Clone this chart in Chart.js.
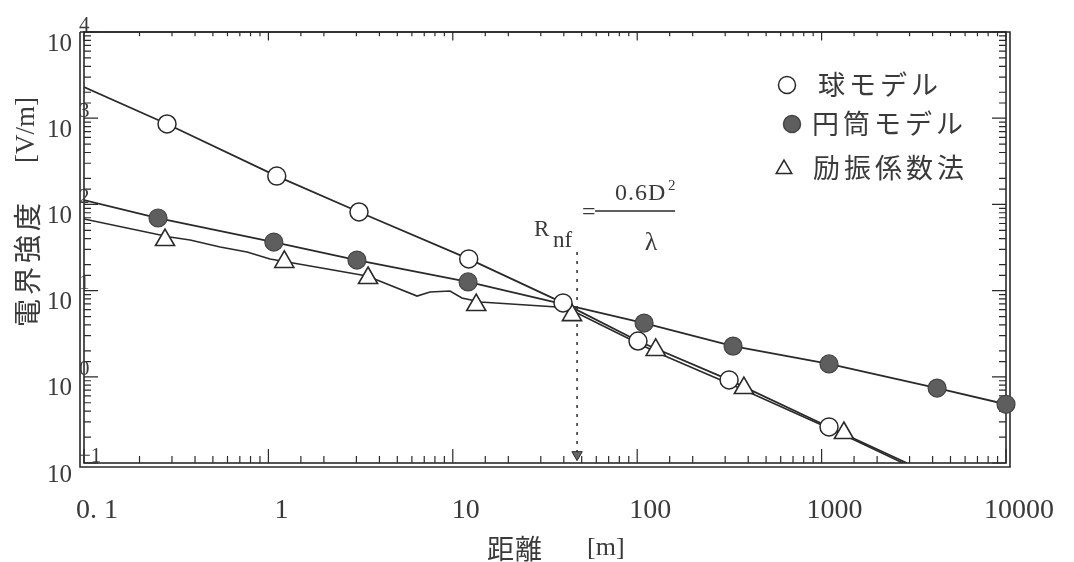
<!DOCTYPE html>
<html><head><meta charset="utf-8">
<script src="https://cdn.jsdelivr.net/npm/chart.js@4.4.0/dist/chart.umd.min.js"></script>
<style>html,body{margin:0;padding:0;background:#fff;}#wrap{width:1074px;height:562px;position:relative;}</style>
</head><body><div id="wrap"><canvas id="c"></canvas></div>
<script>
// ---- data ----
const xTickValues = [0.1, 1, 10, 100, 1000, 10000];
const xTickLabels = ['0. 1', '1', '10', '100', '1000', '10000'];
const yTickExponents = [-1, 0, 1, 2, 3, 4];
const yTickBase = '10';
const xTitle = ['距離', '[m]'];
const yTitle = ['電界強度', '[V/m]'];
const seriesNames = ['球モデル', '円筒モデル', '励振係数法'];

// 球モデル (open circles)
const sphereX = [0.282, 1.11, 3.10, 12.2, 39.6, 101, 315, 1097];
const sphereY = [857, 213, 81.7, 23.3, 7.2, 2.6, 0.92, 0.262];
const sphereLineX = [0.1, 0.282, 1.11, 3.10, 12.2, 39.6, 101, 315, 1097, 2900];
const sphereLineY = [2300, 857, 213, 81.7, 23.3, 7.2, 2.6, 0.92, 0.262, 0.1];

// 円筒モデル (filled circles)
const cylX = [0.252, 1.07, 3.02, 12.1, 109, 331, 1097, 4230, 10000];
const cylY = [69.5, 36.6, 22.6, 12.6, 4.2, 2.27, 1.41, 0.74, 0.48];
const cylLineX = [0.1, 0.252, 1.07, 3.02, 12.1, 109, 331, 1097, 4230, 10000];
const cylLineY = [112, 69.5, 36.6, 22.6, 12.6, 4.2, 2.27, 1.41, 0.74, 0.48];

// 励振係数法 (triangles + measured curve)
const excX = [0.275, 1.22, 3.47, 13.4, 44.3, 126, 379, 1321];
const excY = [38.6, 21.5, 14.0, 6.8, 5.2, 2.05, 0.74, 0.223];
const excLineX = [0.1, 0.292, 0.376, 0.547, 0.766, 1.02, 1.36, 2.24, 3.43, 6.40, 7.52, 9.66, 11.2, 14.1, 36.7, 46.0, 126, 379, 1321, 2760];
const excLineY = [67.8, 41.9, 38.6, 32.1, 28.1, 23.3, 20.9, 17.3, 14.8, 8.65, 9.64, 9.9, 8.2, 7.38, 6.46, 5.65, 1.94, 0.703, 0.211, 0.1];

// R_nf marker line
const rnfX = 47.2;
const rnfLineY = [28, 0.125];

const pts = (xs, ys) => xs.map((v, i) => ({x: v, y: ys[i]}));

const fontSerif = "'Liberation Serif', 'DejaVu Serif', serif";
const fontCJK = "'Noto Sans CJK JP', sans-serif";
const ink = '#2a2a2a';
const txt = '#3a3a3a';
const cylFill = '#5e5e5e';

function drawMarker(ctx, kind, cx, cy, r) {
  ctx.save();
  ctx.lineWidth = 1.5;
  ctx.strokeStyle = ink;
  ctx.beginPath();
  if (kind === 'tri') {
    for (let k = 0; k < 3; k++) {
      const ang = k * 2 * Math.PI / 3;
      const px = cx + Math.sin(ang) * r, py = cy - Math.cos(ang) * r;
      if (k === 0) ctx.moveTo(px, py); else ctx.lineTo(px, py);
    }
    ctx.closePath();
    ctx.fillStyle = '#fff';
  } else {
    ctx.arc(cx, cy, r, 0, Math.PI * 2);
    ctx.fillStyle = kind === 'filled' ? cylFill : '#fff';
    if (kind === 'filled') ctx.strokeStyle = '#444';
  }
  ctx.fill(); ctx.stroke();
  ctx.restore();
}

const isMajor = v => Math.abs(Math.log10(v) - Math.round(Math.log10(v))) < 1e-6;

const decor = {
  id: 'decor',
  beforeDatasetsDraw(chart) {
    const {ctx, chartArea: a, scales: {x, y}} = chart;
    ctx.save();
    ctx.strokeStyle = ink; ctx.lineWidth = 1.6;
    ctx.strokeRect(a.left, a.top, a.right - a.left, a.bottom - a.top);
    ctx.beginPath();
    ctx.moveTo(a.left - 4, a.top); ctx.lineTo(a.left - 4, a.bottom + 4);
    ctx.lineTo(a.right + 4, a.bottom + 4); ctx.lineTo(a.right + 4, a.top);
    ctx.lineTo(a.left - 4, a.top);
    ctx.stroke();
    ctx.lineWidth = 1.2;
    ctx.beginPath();
    x.ticks.forEach(t => {
      const p = x.getPixelForValue(t.value);
      const L = isMajor(t.value) ? 14 : 7;
      ctx.moveTo(p, a.bottom); ctx.lineTo(p, a.bottom - L);
      ctx.moveTo(p, a.top); ctx.lineTo(p, a.top + L * 0.6);
    });
    y.ticks.forEach(t => {
      const p = y.getPixelForValue(t.value);
      const L = isMajor(t.value) ? 14 : 7;
      ctx.moveTo(a.left, p); ctx.lineTo(a.left + L, p);
      ctx.moveTo(a.right, p); ctx.lineTo(a.right - L, p);
    });
    ctx.stroke();
    ctx.restore();
  },
  afterDraw(chart) {
    const {ctx, chartArea: a, scales: {x, y}} = chart;
    ctx.save();
    ctx.fillStyle = txt;
    // y tick labels 10^n
    yTickExponents.forEach(e => {
      const p = y.getPixelForValue(Math.pow(10, e));
      ctx.font = `25px ${fontSerif}`; ctx.textAlign = 'right'; ctx.textBaseline = 'middle';
      ctx.fillText(yTickBase, a.left - 12, p + 12);
      ctx.font = `21px ${fontSerif}`; ctx.textAlign = 'left';
      ctx.fillText(String(e).replace('-', '\u2212'), a.left - 5, p - 7);
    });
    // y title (rotated)
    ctx.save();
    ctx.translate(a.left - 57, a.top + 295);
    ctx.rotate(-Math.PI / 2);
    ctx.textAlign = 'left'; ctx.textBaseline = 'middle';
    ctx.font = `28px ${fontCJK}`; ctx.letterSpacing = '4px';
    ctx.fillText(yTitle[0], 0, 0);
    ctx.letterSpacing = '0px';
    ctx.font = `27px ${fontSerif}`;
    ctx.fillText(yTitle[1], 164, 0);
    ctx.restore();
    // x title
    ctx.textBaseline = 'middle'; ctx.textAlign = 'left';
    ctx.font = `27px ${fontCJK}`; ctx.letterSpacing = '1px';
    ctx.fillText(xTitle[0], a.left + 403, a.bottom + 86);
    ctx.letterSpacing = '0px';
    ctx.font = `26px ${fontSerif}`;
    ctx.fillText(xTitle[1], a.left + 503, a.bottom + 85);
    // legend
    const lx = a.right - 219, ly = [a.top + 53, a.top + 92, a.top + 138];
    const kinds = ['open', 'filled', 'tri'];
    const mx = [0, 5, -3];
    const tx = [31, 25, 26];
    kinds.forEach((k, i) => {
      drawMarker(ctx, k, lx + mx[i], ly[i] - (k === 'tri' ? 1 : 0), k === 'tri' ? 9 : 8.5);
      ctx.fillStyle = txt;
      ctx.font = `27px ${fontCJK}`; ctx.letterSpacing = '4px';
      ctx.textAlign = 'left'; ctx.textBaseline = 'middle';
      ctx.fillText(seriesNames[i], lx + tx[i], ly[i] + (i === 2 ? -2 : 0));
    });
    ctx.letterSpacing = '0px';
    // R_nf formula
    const rx = x.getPixelForValue(rnfX);
    const ry = y.getPixelForValue(rnfLineY[0]);
    ctx.fillStyle = txt; ctx.textBaseline = 'alphabetic'; ctx.textAlign = 'left';
    ctx.font = `23px ${fontSerif}`;
    ctx.fillText('R', rx - 43, ry - 16);
    ctx.fillText('nf', rx - 24, ry - 5);
    ctx.font = `24px ${fontSerif}`;
    ctx.fillText('=', rx + 5, ry - 33);
    ctx.strokeStyle = ink; ctx.lineWidth = 1.6;
    ctx.beginPath(); ctx.moveTo(rx + 18, ry - 41); ctx.lineTo(rx + 98, ry - 41); ctx.stroke();
    ctx.font = `24px ${fontSerif}`; ctx.letterSpacing = '1px';
    ctx.fillText('0.6D', rx + 38, ry - 52);
    ctx.letterSpacing = '0px';
    ctx.font = `15px ${fontSerif}`;
    ctx.fillText('2', rx + 91, ry - 62);
    ctx.font = `26px ${fontSerif}`; ctx.textAlign = 'center';
    ctx.fillText('\u03bb', rx + 74, ry - 2);
    ctx.restore();
  }
};

const lineDs = (xs, ys, extra) => Object.assign({
  data: pts(xs, ys), showLine: true, borderColor: ink, borderWidth: 1.8,
  pointRadius: 0, fill: false, tension: 0
}, extra || {});

new Chart(document.getElementById('c'), {
  type: 'line',
  data: {
    datasets: [
      {label: seriesNames[0], data: pts(sphereX, sphereY), showLine: false, pointStyle: 'circle',
       pointRadius: 9, backgroundColor: '#fff', borderColor: ink, borderWidth: 1.5, clip: false, order: 1},
      {label: seriesNames[1], data: pts(cylX, cylY), showLine: false, pointStyle: 'circle',
       pointRadius: 9, backgroundColor: cylFill, borderColor: '#444', borderWidth: 1.2, clip: false, order: 2},
      {label: seriesNames[2], data: pts(excX, excY), showLine: false, pointStyle: 'triangle',
       pointRadius: 11, backgroundColor: '#fff', borderColor: ink, borderWidth: 1.6, clip: false, order: 3},
      lineDs(sphereLineX, sphereLineY, {order: 10}),
      lineDs(cylLineX, cylLineY, {order: 11}),
      lineDs(excLineX, excLineY, {order: 12, borderWidth: 1.6}),
      lineDs([rnfX, rnfX], rnfLineY, {order: 13, borderWidth: 1.5, borderDash: [3, 6],
        pointRadius: [0, 6], pointStyle: 'triangle', rotation: 180, pointRotation: 180,
        backgroundColor: '#666', pointBackgroundColor: '#666', pointBorderColor: ink, pointBorderWidth: 1})
    ]
  },
  options: {
    responsive: true, maintainAspectRatio: false, animation: false,
    layout: {padding: {left: 0, top: 32, right: 68, bottom: 0}},
    plugins: {legend: {display: false}, tooltip: {enabled: false}},
    events: [],
    scales: {
      x: {
        type: 'logarithmic', position: 'bottom', min: 0.1, max: 10000,
        grid: {display: false, drawTicks: false}, border: {display: false},
        ticks: {
          autoSkip: false, maxRotation: 0, minRotation: 0, padding: 31, labelOffset: 13,
          color: txt, font: {family: fontSerif, size: 28},
          callback: (v) => {
            const i = xTickValues.findIndex(t => Math.abs(Math.log10(t) - Math.log10(v)) < 1e-6);
            return i >= 0 ? xTickLabels[i] : '';
          }
        },
        afterFit: (s) => { s.height = 99; }
      },
      y: {
        type: 'logarithmic', min: 0.1, max: 10000,
        grid: {display: false, drawTicks: false}, border: {display: false},
        ticks: {display: false},
        afterFit: (s) => { s.width = 84; }
      }
    }
  },
  plugins: [decor]
});
</script>
</body></html>
